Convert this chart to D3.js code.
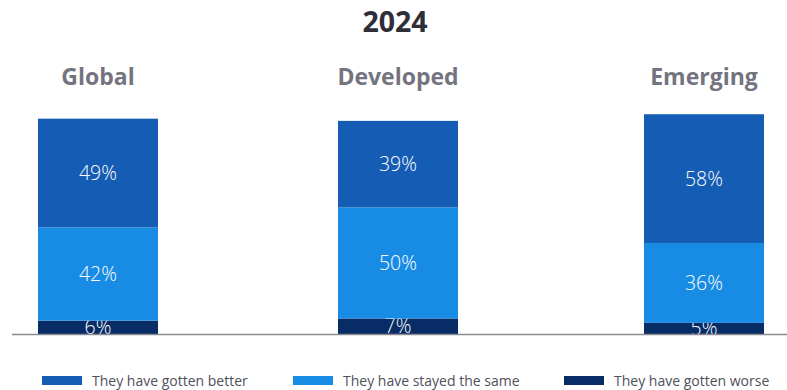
<!DOCTYPE html>
<html>
<head>
<meta charset="utf-8">
<script src="https://cdn.jsdelivr.net/npm/d3@7"></script>
<style>
  html, body { margin: 0; padding: 0; background: #fff; }
  svg { display: block; }
  text { font-family: "Open Sans", "Noto Sans", sans-serif; }
</style>
</head>
<body>
<svg id="chart" width="787" height="390"></svg>
<script>
// Survey responses, 2024
const title = "2024";
const regions = ["Global", "Developed", "Emerging"];
const seriesNames = ["They have gotten worse", "They have stayed the same", "They have gotten better"];
const worse = [6, 7, 5];
const same = [42, 50, 36];
const better = [49, 39, 58];
const legendOrder = ["They have gotten better", "They have stayed the same", "They have gotten worse"];

const colors = {
  "They have gotten better": "#155cb4",
  "They have stayed the same": "#188ce5",
  "They have gotten worse": "#082c65"
};

const rows = regions.map((r, i) => ({
  region: r,
  "They have gotten worse": worse[i],
  "They have stayed the same": same[i],
  "They have gotten better": better[i]
}));

const svg = d3.select("#chart");
const baseY = 334;

const x = d3.scaleOrdinal()
  .domain(regions)
  .range([98, 398, 704]);
const barW = 120;

const y = d3.scaleLinear().domain([0, 100]).range([baseY, baseY - 222]);

const stack = d3.stack().keys(seriesNames)(rows);

// Title
svg.append("text")
  .attr("x", 395).attr("y", 32)
  .attr("text-anchor", "middle")
  .attr("font-size", 28.5).attr("font-weight", 700)
  .attr("fill", "#2e2e38")
  .text(title);

// Region headers
svg.selectAll("text.region")
  .data(regions)
  .join("text")
  .attr("class", "region")
  .attr("x", d => x(d))
  .attr("y", 85)
  .attr("text-anchor", "middle")
  .attr("font-size", 23).attr("font-weight", 700)
  .attr("fill", "#747480")
  .text(d => d);

// Stacked bars
const layer = svg.selectAll("g.layer")
  .data(stack)
  .join("g")
  .attr("class", "layer")
  .attr("fill", d => colors[d.key]);

layer.selectAll("rect")
  .data(d => d)
  .join("rect")
  .attr("x", d => x(d.data.region) - barW / 2)
  .attr("y", d => y(d[1]))
  .attr("width", barW)
  .attr("height", d => y(d[0]) - y(d[1]));

// Segment value labels
layer.selectAll("text")
  .data(d => d)
  .join("text")
  .attr("x", d => x(d.data.region))
  .attr("y", d => (y(d[0]) + y(d[1])) / 2)
  .attr("dy", "0.36em")
  .attr("text-anchor", "middle")
  .attr("font-size", 19.5).attr("font-weight", 300)
  .attr("fill", "#ffffff")
  .text(d => (d[1] - d[0]) + "%");

// Baseline
svg.append("line")
  .attr("x1", 12).attr("x2", 787)
  .attr("y1", baseY + 0.5).attr("y2", baseY + 0.5)
  .attr("stroke", "#8a8a92").attr("stroke-width", 1.5);

// Legend
const legendX = [42, 293, 564];
const legend = svg.selectAll("g.legend")
  .data(legendOrder)
  .join("g")
  .attr("class", "legend")
  .attr("transform", (d, i) => `translate(${legendX[i]},376)`);

legend.append("rect")
  .attr("width", 40).attr("height", 9)
  .attr("fill", d => colors[d]);

legend.append("text")
  .attr("x", 50).attr("y", 4.5)
  .attr("dy", "0.36em")
  .attr("font-size", 14)
  .attr("fill", "#50505a")
  .text(d => d);
</script>
</body>
</html>
